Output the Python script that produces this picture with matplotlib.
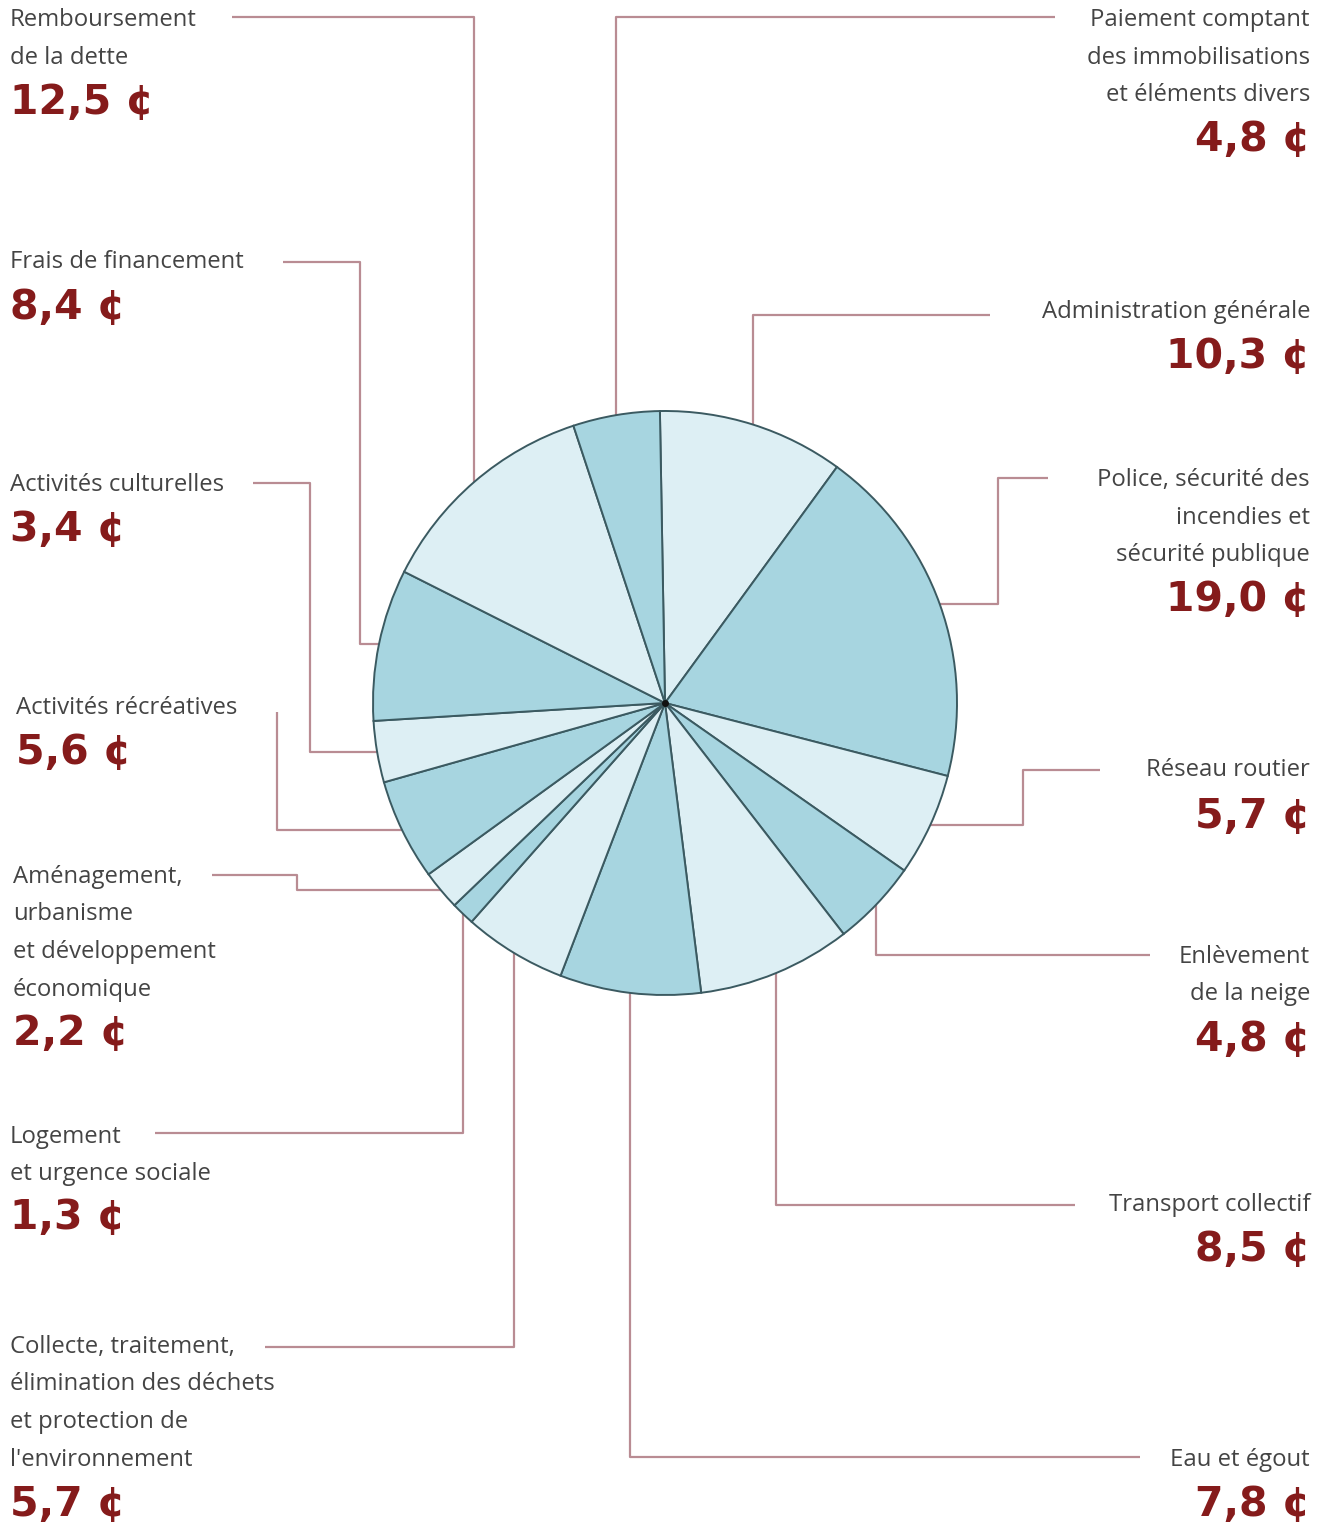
import numpy as np
import matplotlib
matplotlib.use("Agg")
import matplotlib.pyplot as plt

# slices, clockwise from the top
labels = [
    "Administration générale",
    "Police, sécurité des\nincendies et\nsécurité publique",
    "Réseau routier",
    "Enlèvement\nde la neige",
    "Transport collectif",
    "Eau et égout",
    "Collecte, traitement,\nélimination des déchets\net protection de\nl'environnement",
    "Logement\net urgence sociale",
    "Aménagement,\nurbanisme\net développement\néconomique",
    "Activités récréatives",
    "Activités culturelles",
    "Frais de financement",
    "Remboursement\nde la dette",
    "Paiement comptant\ndes immobilisations\net éléments divers",
]
cents = [10.3, 19.0, 5.7, 4.8, 8.5, 7.8, 5.7, 1.3, 2.2, 5.6, 3.4, 8.4, 12.5, 4.8]
value_labels = [f"{v:.1f}".replace(".", ",") + " ¢" for v in cents]

LIGHT = "#ddeff4"
DARK = "#a7d5e0"
EDGE = "#3b5a61"
LEAD = "#b98c93"
TEXT = "#444444"
VALUE = "#851b1b"

W, H = 1321, 1525
CX, CY, R = 665, 703, 292

# label anchors: (x, y of first line, y of value, side)
anchors = [
    (1310, 312, 357, "right"),
    (1310, 480, 600, "right"),
    (1310, 770, 817, "right"),
    (1310, 957, 1040, "right"),
    (1310, 1205, 1250, "right"),
    (1310, 1460, 1505, "right"),
    (10, 1347, 1505, "left"),
    (10, 1137, 1218, "left"),
    (13, 877, 1034, "left"),
    (16, 708, 753, "left"),
    (10, 485, 530, "left"),
    (10, 262, 308, "left"),
    (10, 20, 103, "left"),
    (1310, 20, 140, "right"),
]
# leader routes from the wedge edge: ("v", y) vertical move, ("h", x) horizontal move
routes = [
    [("v", 315), ("h", 990)],
    [("h", 998), ("v", 478), ("h", 1048)],
    [("h", 1023), ("v", 770), ("h", 1100)],
    [("v", 955), ("h", 1150)],
    [("v", 1205), ("h", 1075)],
    [("v", 1457), ("h", 1140)],
    [("v", 1347), ("h", 265)],
    [("v", 1133), ("h", 155)],
    [("h", 297), ("v", 875), ("h", 212)],
    [("h", 277), ("v", 712)],
    [("h", 310), ("v", 483), ("h", 253)],
    [("h", 360), ("v", 262), ("h", 283)],
    [("v", 17), ("h", 232)],
    [("v", 17), ("h", 1055)],
]

fig = plt.figure(figsize=(W / 100, H / 100), dpi=100)
ax = fig.add_axes([0, 0, 1, 1])

colors = [LIGHT if i % 2 == 0 else DARK for i in range(len(cents))]
wedges, _ = ax.pie(
    cents, colors=colors, startangle=-91, counterclock=True,
    center=(CX, CY), radius=R, frame=True,
    wedgeprops=dict(edgecolor=EDGE, linewidth=1.4),
)
ax.plot(CX, CY, "o", color="#111111", markersize=4, zorder=5)

for wedge, label, val, (tx, ty, vy, side), route in zip(wedges, labels, value_labels, anchors, routes):
    mid = np.deg2rad((wedge.theta1 + wedge.theta2) / 2)
    x, y = CX + R * np.cos(mid), CY + R * np.sin(mid)
    xs, ys = [x], [y]
    for kind, target in route:
        if kind == "v":
            y = target
        else:
            x = target
        xs.append(x)
        ys.append(y)
    ax.plot(xs, ys, color=LEAD, linewidth=1.6, solid_capstyle="butt", zorder=0)

    for i, line in enumerate(label.split("\n")):
        ax.text(tx, ty + i * 37.5, line, ha=side, va="center", fontsize=17.2,
                family="Open Sans", fontweight="medium", color=TEXT)
    ax.text(tx, vy, val, ha=side, va="center", fontsize=29.5, fontweight="heavy",
            family="DejaVu Sans", color=VALUE)

ax.set_xlim(0, W)
ax.set_ylim(H, 0)
ax.set_aspect("auto")
ax.axis("off")

fig.savefig("out.png", dpi=100, facecolor="white")
